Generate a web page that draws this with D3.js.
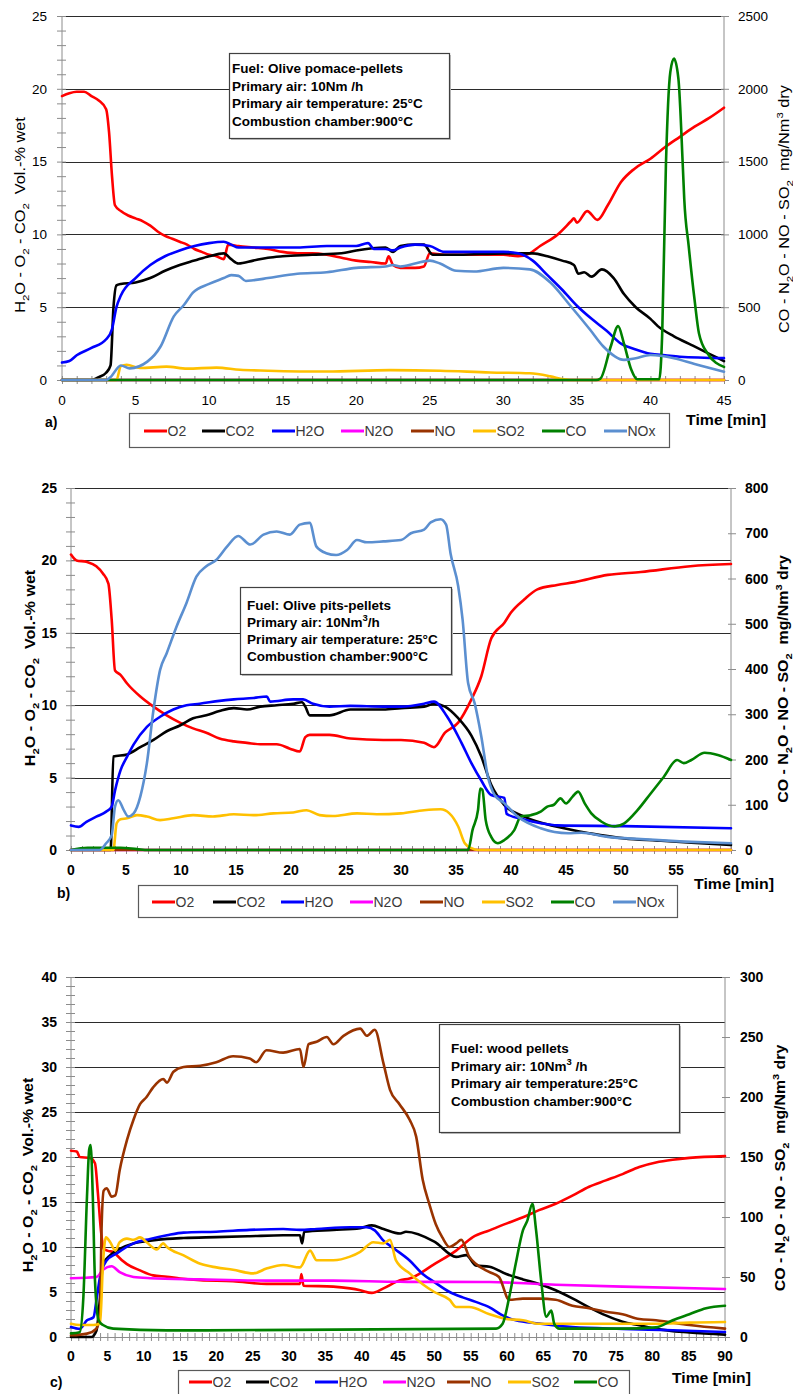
<!DOCTYPE html>
<html>
<head>
<meta charset="utf-8">
<script src="https://cdn.jsdelivr.net/npm/d3@7"></script>
<style>
	body{margin:0;background:#fff;}
	svg{display:block;}
</style>
</head>
<body>
<script>
//series names in legend / draw order
var seriesNames = ["O2", "CO2", "H2O", "N2O", "NO", "SO2", "CO", "NOx"];
var leftSeries = ["O2", "CO2", "H2O"]; //plotted against the Vol.-% axis

//tick labels
var aXTicks = [0, 5, 10, 15, 20, 25, 30, 35, 40, 45],
	aLeftTicks = [0, 5, 10, 15, 20, 25],
	aRightTicks = [0, 500, 1000, 1500, 2000, 2500];
var bXTicks = [0, 5, 10, 15, 20, 25, 30, 35, 40, 45, 50, 55, 60],
	bLeftTicks = [0, 5, 10, 15, 20, 25],
	bRightTicks = [0, 100, 200, 300, 400, 500, 600, 700, 800];
var cXTicks = [0, 5, 10, 15, 20, 25, 30, 35, 40, 45, 50, 55, 60, 65, 70, 75, 80, 85, 90],
	cLeftTicks = [0, 5, 10, 15, 20, 25, 30, 35, 40],
	cRightTicks = [0, 50, 100, 150, 200, 250, 300];

//panel a) olive pomace pellets  [time min, value]
var aO2 = [[0,19.5],[0.5,19.7],[1,19.8],[1.5,19.8],[2,19.5],[2.5,19.2],[3,18.6],[3.2,17],[3.4,14],[3.6,12],[4,11.6],[4.5,11.3],[5,11.1],[5.5,10.9],[6,10.6],[6.5,10.2],[7,9.9],[7.5,9.7],[8,9.5],[8.5,9.3],[9,9.0],[9.5,8.8],[10,8.6],[10.5,8.5],[11,8.3],[11.3,9.3],[12,9.2],[13,9.1],[14,9.0],[15,8.8],[16,8.7],[17,8.7],[18,8.6],[19,8.4],[20,8.2],[21,8.1],[22,8.0],[22.2,8.5],[22.5,7.9],[23,7.7],[24,7.7],[24.6,7.8],[25,8.7],[26,8.6],[28,8.6],[30,8.6],[31,8.5],[31.8,8.7],[32.5,9.2],[33.7,10.0],[34.6,10.9],[34.8,11.1],[35,10.8],[35.7,11.6],[36.4,11.0],[37.1,12.0],[38,13.6],[38.9,14.5],[40,15.2],[41,16.0],[42,16.7],[43,17.4],[44,18.0],[45,18.7]];
var aCO2 = [[0,0],[2,0],[2.5,0.2],[3,0.5],[3.3,1],[3.5,5],[3.7,6.5],[4,6.6],[5,6.7],[6,7.0],[7,7.5],[8,7.9],[9,8.2],[10,8.5],[11,8.7],[11.5,8.3],[12,8.0],[13,8.2],[14,8.4],[15,8.5],[17,8.6],[19,8.7],[20,8.9],[22,9.1],[22.5,8.8],[23,9.2],[24,9.3],[24.6,9.3],[25.2,8.6],[27,8.6],[30,8.7],[32,8.7],[33,8.5],[34,8.2],[34.8,7.9],[35.1,7.3],[35.5,7.4],[36,7.1],[36.7,7.6],[37.5,7.0],[38.2,5.9],[39,5.0],[40,4.2],[40.5,3.7],[41.6,3.0],[42.8,2.4],[44,1.8],[45,1.3]];
var aH2O = [[0,1.2],[0.5,1.3],[1,1.7],[2,2.2],[3,2.8],[3.4,3.5],[3.7,5.0],[4,5.8],[5,7.0],[6,7.9],[7,8.5],[8,8.9],[9,9.2],[10,9.4],[11,9.5],[11.5,9.3],[12,9.1],[14,9.1],[16,9.1],[18,9.2],[20,9.2],[20.8,9.4],[21.2,9.0],[22,9.0],[22.5,8.9],[23,9.1],[24,9.3],[25,9.2],[26,8.8],[30,8.8],[31,8.7],[32,8.2],[33,7.2],[34,6.2],[35,5.1],[36,4.2],[37,3.4],[38,2.5],[39,2.1],[40,1.8],[41,1.7],[42,1.6],[45,1.5]];
var aN2O = [[0,0],[45,0]];
var aNO = [[0,0],[45,0]];
var aSO2 = [[0,0],[3.7,0],[4,95],[4.4,105],[5.3,82],[7.1,92],[8.5,78],[10.5,85],[12.1,70],[14,64],[18,58],[22.3,68],[25.7,64],[29.1,52],[31.8,46],[33.2,25],[34.1,5],[34.6,0],[45,0]];
var aCO = [[0,0],[36.3,0],[36.6,10],[37.3,230],[37.8,370],[38.2,250],[38.7,70],[39.1,5],[40.6,5],[40.8,320],[41.05,1470],[41.35,2115],[41.6,2207],[41.9,2070],[42.2,1470],[42.3,1240],[42.6,920],[43,550],[43.3,320],[43.9,180],[45,90]];
var aNOx = [[0,0],[3,0],[3.3,20],[4,100],[4.6,80],[5.8,126],[6.7,230],[7.6,437],[8.3,517],[8.9,600],[10,660],[11,700],[11.5,720],[12,715],[12.5,680],[13,685],[14,700],[16,730],[18,740],[20,770],[22,780],[22.5,790],[23,780],[24,800],[25,820],[25.7,800],[26.8,750],[28,745],[30,770],[31.8,760],[33.2,670],[34.6,505],[35.9,345],[36.8,230],[38.2,138],[39,150],[40,172],[41.6,150],[43,110],[45,57]];

//panel b) olive pits pellets
var bO2 = [[0,20.4],[0.5,20.0],[1.4,19.9],[2.3,19.6],[2.9,19.1],[3.4,18.4],[3.7,15.9],[4.0,12.4],[4.5,12.1],[5.1,11.5],[6.3,10.6],[7.5,9.9],[8.7,9.3],[9.9,8.8],[11.1,8.4],[12.3,8.1],[13.5,7.7],[14.8,7.5],[16,7.4],[17.2,7.3],[18.7,7.3],[19.9,7.0],[20.8,6.8],[21.3,7.8],[21.7,7.95],[23.5,7.95],[25.4,7.7],[28.4,7.6],[30,7.6],[32.1,7.4],[33,7.1],[34,8.1],[35.2,8.8],[36.4,10.4],[37.3,12.0],[38.2,14.6],[39.4,15.7],[40,16.4],[41.2,17.3],[42.4,18.0],[44.2,18.3],[45.8,18.5],[48.8,19.0],[51.8,19.2],[56.3,19.6],[60,19.75]];
var bCO2 = [[0,0],[3.6,0],[3.85,6.45],[5.1,6.6],[6.3,7.1],[7.5,7.6],[8.7,8.2],[9.9,8.6],[11.1,9.1],[12.3,9.3],[13.5,9.6],[14.8,9.8],[16,9.7],[17.2,9.9],[18.7,10.0],[20.2,10.1],[21,10.2],[21.3,9.9],[21.7,9.3],[23.5,9.3],[25.4,9.7],[28.4,9.7],[30,9.8],[32.1,9.9],[33,10.1],[34,9.9],[35.2,9.1],[36.4,7.9],[37.3,6.45],[38.2,4.5],[39.4,3.1],[41.2,2.3],[44.2,1.6],[47.2,1.15],[50.3,0.8],[53.3,0.65],[56.4,0.5],[60,0.35]];
var bH2O = [[0,1.7],[0.7,1.6],[1.4,1.95],[2.3,2.3],[3.2,2.65],[3.7,3.0],[4.0,4.1],[4.5,5.5],[5.1,6.45],[5.7,7.3],[6.9,8.5],[8.1,9.2],[9.3,9.7],[10.5,10.0],[11.7,10.1],[13.5,10.3],[14.8,10.4],[16.6,10.5],[17.8,10.6],[18.1,10.25],[20.2,10.4],[21.1,10.4],[22,10.1],[23.5,9.9],[25.4,9.95],[28.4,9.9],[30,9.9],[32.1,10.1],[33,10.25],[34.2,9.2],[35.5,7.4],[36.4,6.0],[37.3,4.8],[38.2,3.8],[39.4,3.6],[39.6,2.5],[41.2,2.1],[42.7,1.85],[44.2,1.7],[50.3,1.65],[60,1.5]];
var bN2O = [[0,0],[60,0]];
var bNO = [[0,0],[60,0]];
var bSO2 = [[0,0],[3.85,0],[4.15,59],[4.5,68],[5.1,70],[6,77],[6.9,74],[8.1,66],[9.3,70],[11.1,77],[12.9,74],[14.8,79],[16.6,77],[18.4,81],[20.2,83],[21.4,88],[22.6,77],[23.8,75],[26,81],[27.8,79],[30,81],[32.1,88],[33.6,90],[34.4,81],[35.2,52],[35.8,15],[36.4,4],[37,0],[60,0]];
var bCO = [[0,0],[1.5,5],[4.5,5],[6,2],[7,0],[36.1,0],[36.5,44],[37,88],[37.2,136],[37.4,133],[37.7,66],[38.2,29],[38.8,15],[39.4,22],[40.3,44],[40.9,74],[41.8,77],[42.7,85],[43.3,96],[43.9,100],[44.5,114],[45,103],[45.6,118],[46.1,129],[46.7,103],[47.3,81],[48.2,63],[49.4,52],[50.3,59],[51.5,88],[52.7,125],[53.9,162],[55.1,199],[55.7,192],[56.4,199],[57.6,215],[58.8,210],[60,199]];
var bNOx = [[0,0],[2.6,0],[3.2,15],[3.7,33],[4.0,96],[4.3,110],[4.8,88],[5.2,74],[5.7,81],[6.3,118],[6.9,192],[7.5,310],[8.1,398],[8.7,435],[9.6,494],[10.5,546],[11.4,604],[12.3,627],[13.2,641],[14.2,671],[15.2,694],[16.3,675],[17.5,697],[18.7,704],[19.9,697],[20.8,719],[21.7,723],[22.3,671],[23.2,656],[24.1,652],[25.1,663],[26,685],[26.9,680],[28.4,682],[30,685],[30.9,700],[32.1,708],[32.7,724],[33.6,731],[34.1,719],[34.5,656],[35.2,583],[35.6,509],[36.1,369],[36.7,324],[37.3,251],[37.9,162],[38.5,122],[39.4,103],[40.6,74],[42.7,48],[45.2,37],[46.4,38],[48.8,29],[51.8,24],[56.4,18],[60,15]];

//panel c) wood pellets (no NOx trace)
var cO2 = [[0,20.7],[0.8,20.6],[1.2,20.0],[2.6,19.9],[3.3,19.3],[3.7,16],[4.1,12],[4.5,9.8],[5,9.6],[6,9.4],[6.3,9.1],[7.7,8.1],[9.5,7.4],[11.3,6.85],[13.2,6.7],[15,6.5],[17.8,6.3],[22.3,6.2],[26.9,5.9],[31.5,5.9],[31.7,7.0],[32,5.7],[36.1,5.6],[38.4,5.4],[39.8,5.2],[41.4,4.9],[43,5.4],[45.3,6.3],[46.6,6.5],[50,8.1],[53,9.6],[55.3,11.1],[57.6,11.85],[59.9,12.6],[62.2,13.3],[64.4,14.1],[66.7,14.8],[69,15.7],[71.3,16.7],[73.6,17.4],[75.9,18.1],[78.2,18.9],[80.5,19.4],[82.8,19.7],[85.1,19.9],[90,20.1]];
var cCO2 = [[0,0],[2.8,0],[3.5,0.7],[4,4.4],[4.4,8.1],[5.4,9.1],[6.7,9.8],[8.6,10.4],[10.9,10.7],[13.2,10.9],[15.5,11.0],[20,11.1],[24.6,11.2],[29.2,11.3],[31.5,11.3],[31.8,10.4],[32.1,11.7],[36.1,11.9],[39.8,12.1],[41.4,12.4],[43,12.0],[45.3,11.5],[46.1,11.7],[50,10.6],[53,8.9],[54.4,9.1],[55.7,7.96],[57.6,7.8],[59.9,7.0],[62.2,6.4],[64.4,5.9],[66.7,5.2],[69,4.3],[71.3,3.3],[73.6,2.4],[75.9,1.7],[78.2,1.3],[80.5,0.9],[85.1,0.5],[90,0.26]];
var cH2O = [[0,1.1],[1.2,0.9],[2.2,1.85],[3.1,2.2],[3.5,4.1],[4,6.7],[4.9,8.5],[6.3,9.3],[8.6,10.4],[10.9,10.9],[13.2,11.3],[15.5,11.6],[20,11.7],[24.6,11.9],[29.2,12.0],[31.5,11.9],[33.8,12.0],[38.4,12.2],[40.7,12.2],[41.8,11.85],[43,10.7],[44.5,9.8],[46.6,8.5],[48.4,7.0],[50,6.1],[52.1,5.0],[53.9,4.4],[55.7,3.9],[57.6,3.3],[59.4,2.4],[61.2,1.85],[64.4,1.5],[69,1.1],[75.9,0.9],[82.8,0.75],[90,0.55]];
var cN2O = [[0,49],[3.5,50],[4.4,56],[5.6,59],[6.7,54],[8.6,50],[10.9,49],[17.8,48],[26.9,47],[36.1,47],[45.3,46],[57.6,45.8],[66.7,43.6],[75.9,42],[90,40]];
var cNO = [[0,1.4],[2.2,2.8],[3.5,7],[4,19],[4.2,89],[4.5,122],[4.9,124],[5.6,117],[6.1,118],[6.7,139],[7.7,164],[8.6,181],[9.5,194],[10.4,200],[11.3,208],[12.7,215],[13.2,212],[14.1,221],[15.5,225],[17.8,226],[20,229],[22.3,234],[24.6,232],[25.5,229],[26.9,239],[29.2,237],[31.5,240],[32,225],[32.7,244],[33.8,246],[35.2,250],[36.1,244],[37.5,251],[39.8,257],[40.7,251],[41.8,256],[43,228],[43.9,206],[45.2,194],[46.6,181],[47.5,167],[48.4,131],[49.3,111],[50.2,94],[51.1,83],[52.1,75],[53,78],[53.7,81],[54.8,67],[55.7,61],[57.6,54],[58.9,50],[60.3,31],[62.2,32],[64.4,32],[66.7,31],[69,26],[71.3,24],[73.6,21],[75.9,19],[78.2,15],[80.5,14],[85.1,10],[90,7]];
var cSO2 = [[0,11],[1.2,10],[3.1,10],[4,11],[4.4,61],[4.8,83],[5.4,79],[6.1,72],[6.7,79],[7.7,82],[8.6,81],[9.5,83],[10.4,79],[11.8,73],[12.7,78],[13.2,75],[15.5,68],[17.8,61],[20,58],[22.3,56],[25.1,53],[26.9,57],[29.2,60],[31.5,58],[32.9,72],[33.8,64],[36.1,64],[38.4,67],[39.8,71],[41.6,79],[43,78],[43.9,81],[44.7,64],[46.6,53],[48.4,44],[50,37.5],[52.1,31],[53,25],[54.8,25],[57.6,19],[59.9,15],[62.2,14],[64.4,11],[71.3,11],[80.5,11],[85.1,12],[90,12.5]];
var cCO = [[0,3],[1.2,4],[1.7,33],[2.2,117],[2.5,156],[2.7,160],[3.0,117],[3.3,47],[3.8,14],[4.4,10],[5.8,7],[13.2,5.5],[58.5,7],[59.4,11],[60.3,33],[61.2,61],[62.2,89],[62.8,97],[63.5,111],[64,89],[64.7,47],[65.4,17],[66.1,22],[66.5,11],[67.2,7],[75.9,7],[80.5,8],[82.8,14],[85.1,19],[87.4,24],[90,26]];

//styling
var colors = {O2: "#ff0000", CO2: "#000000", H2O: "#0000ff", N2O: "#ff00ff", NO: "#993300", SO2: "#ffc000", CO: "#008000", NOx: "#5b8fd0"};
var fontFamily = "'Liberation Sans', Arial, sans-serif";

var svg = d3.select("body")
	.append("svg")
	.attr("width", 793)
	.attr("height", 1394);

var panels = [
	{
		id: "a", plot: {l: 62, r: 724, t: 16, b: 380},
		xMax: 45, leftMax: 25, rightMax: 2500,
		xTicks: aXTicks, leftTicks: aLeftTicks, rightTicks: aRightTicks,
		data: {O2: aO2, CO2: aCO2, H2O: aH2O, N2O: aN2O, NO: aNO, SO2: aSO2, CO: aCO, NOx: aNOx},
		legend: seriesNames, legendBox: {x: 129, y: 413, w: 540, h: 34}, legendCy: 431, legendX: [144, 202, 272, 341, 411, 473, 542, 604],
		bold: false, leftLabelGap: 15, rightLabelGap: 14, xLabelY: 405,
		leftTitle: {x: 25, y: 215, len: 196}, rightTitle: {x: 789, y: 209, len: 248},
		time: {x: 686, y: 425, len: 80}, tag: {x: 45, y: 427},
		box: {x: 229, y: 53, w: 220, h: 85, tx: 232, ty: [73, 90.5, 108, 125.5],
			lines: [[["Fuel: Olive pomace-pellets", ""]], [["Primary air: 10Nm /h", ""]], [["Primary air temperature: 25°C", ""]], [["Combustion chamber:900°C", ""]]]}
	},
	{
		id: "b", plot: {l: 71, r: 731, t: 488, b: 850},
		xMax: 60, leftMax: 25, rightMax: 800,
		xTicks: bXTicks, leftTicks: bLeftTicks, rightTicks: bRightTicks,
		data: {O2: bO2, CO2: bCO2, H2O: bH2O, N2O: bN2O, NO: bNO, SO2: bSO2, CO: bCO, NOx: bNOx},
		legend: seriesNames, legendBox: {x: 138, y: 885, w: 539, h: 32}, legendCy: 902, legendX: [152, 213, 281, 350, 420, 482, 551, 613],
		bold: true, leftLabelGap: 14, rightLabelGap: 14, xLabelY: 875,
		leftTitle: {x: 35, y: 668, len: 197}, rightTitle: {x: 788, y: 679, len: 248},
		time: {x: 694, y: 889, len: 80}, tag: {x: 57, y: 898},
		box: {x: 240, y: 587, w: 211, h: 87, tx: 247, ty: [610, 627, 644, 661],
			lines: [[["Fuel: Olive pits-pellets", ""]], [["Primary air: 10Nm", ""], ["3", "sup"], ["/h", ""]], [["Primary air temperature: 25°C", ""]], [["Combustion chamber:900°C", ""]]]}
	},
	{
		id: "c", plot: {l: 71, r: 725, t: 977, b: 1337},
		xMax: 90, leftMax: 40, rightMax: 300,
		xTicks: cXTicks, leftTicks: cLeftTicks, rightTicks: cRightTicks,
		data: {O2: cO2, CO2: cCO2, H2O: cH2O, N2O: cN2O, NO: cNO, SO2: cSO2, CO: cCO},
		legend: ["O2", "CO2", "H2O", "N2O", "NO", "SO2", "CO"], legendBox: {x: 178, y: 1370, w: 451, h: 34}, legendCy: 1382, legendX: [189, 246, 315, 383, 447, 508, 574],
		bold: true, leftLabelGap: 14, rightLabelGap: 15, xLabelY: 1361,
		leftTitle: {x: 33, y: 1175, len: 195}, rightTitle: {x: 785, y: 1168, len: 247},
		time: {x: 672, y: 1383, len: 79}, tag: {x: 50, y: 1387},
		box: {x: 439, y: 1024, w: 240, h: 108, tx: 451, ty: [1053, 1071, 1088, 1106],
			lines: [[["Fuel: wood pellets", ""]], [["Primary air: 10Nm", ""], ["3", "sup"], [" /h", ""]], [["Primary air temperature:25°C", ""]], [["Combustion chamber:900°C", ""]]]}
	}
];

panels.forEach(function(p){
	drawPanel(svg, p);
});

//write text made of normal / sub / sup pieces
function richText(text, parts, size){
	var shift = 0;
	parts.forEach(function(part){
		var t = text.append("tspan").text(part[0]);
		var target = part[1] == "sub" ? size * 0.25 : (part[1] == "sup" ? -size * 0.45 : 0);
		if (target != shift) t.attr("dy", target - shift);
		shift = target;
		if (part[1]) t.attr("font-size", size * 0.7);
	});
};

//stretch a text element horizontally to a target length
function fitLength(text, len){
	var w = text.node().getBBox().width;
	if (w > 0) text.attr("transform", "scale(" + (len / w) + ",1)");
};

function drawPanel(svg, p){
	var P = p.plot;
	var weight = p.bold ? "bold" : "normal";

	var x = d3.scaleLinear().domain([0, p.xMax]).range([P.l, P.r]);
	var yL = d3.scaleLinear().domain([0, p.leftMax]).range([P.b, P.t]);
	var yR = d3.scaleLinear().domain([0, p.rightMax]).range([P.b, P.t]);

	var g = svg.append("g").attr("class", "panel-" + p.id);

	//horizontal gridlines on the left axis majors
	g.selectAll(".grid")
		.data(p.leftTicks.filter(function(d){ return d > 0; }))
		.enter()
		.append("line")
		.attr("class", "grid")
		.attr("x1", P.l).attr("x2", P.r)
		.attr("y1", function(d){ return Math.round(yL(d)) + 0.5; })
		.attr("y2", function(d){ return Math.round(yL(d)) + 0.5; })
		.attr("stroke", "#2b2b2b")
		.attr("stroke-width", 1);

	//info box
	var B = p.box;
	g.append("rect")
		.attr("x", B.x + 2).attr("y", B.y + 2).attr("width", B.w).attr("height", B.h)
		.attr("fill", "#bfbfbf");
	g.append("rect")
		.attr("x", B.x + 0.5).attr("y", B.y + 0.5).attr("width", B.w).attr("height", B.h)
		.attr("fill", "#fff").attr("stroke", "#404040").attr("stroke-width", 1.2);
	B.lines.forEach(function(line, i){
		var t = g.append("text")
			.attr("x", B.tx).attr("y", B.ty[i])
			.attr("font-family", fontFamily).attr("font-size", 13.5).attr("font-weight", "bold")
			.attr("fill", "#000");
		richText(t, line, 13.5);
	});

	//axis lines
	var axisColor = "#8c8c8c";
	g.append("line").attr("x1", P.l).attr("x2", P.l).attr("y1", P.t).attr("y2", P.b).attr("stroke", axisColor);
	g.append("line").attr("x1", P.r).attr("x2", P.r).attr("y1", P.t).attr("y2", P.b).attr("stroke", axisColor);
	g.append("line").attr("x1", P.l).attr("x2", P.r).attr("y1", P.b + 0.5).attr("y2", P.b + 0.5).attr("stroke", axisColor);

	//left axis ticks: one every unit, crossing the axis
	var leftAxis = d3.axisLeft(yL)
		.tickValues(d3.range(0, p.leftMax + 1, 1))
		.tickSize(5).tickSizeOuter(0).tickFormat("");
	var gl = g.append("g").attr("transform", "translate(" + P.l + ",0)").call(leftAxis);
	gl.select(".domain").remove();
	gl.selectAll(".tick line").attr("x1", 4).attr("stroke", axisColor);

	//right axis ticks (majors only)
	var rightAxis = d3.axisRight(yR)
		.tickValues(p.rightTicks)
		.tickSize(5).tickSizeOuter(0).tickFormat("");
	var gr = g.append("g").attr("transform", "translate(" + P.r + ",0)").call(rightAxis);
	gr.select(".domain").remove();
	gr.selectAll(".tick line").attr("x1", -3).attr("stroke", axisColor);

	//x axis ticks: one every minute
	var xAxis = d3.axisBottom(x)
		.tickValues(d3.range(0, p.xMax + 1, 1))
		.tickSize(4).tickSizeOuter(0).tickFormat("");
	var gx = g.append("g").attr("transform", "translate(0," + P.b + ")").call(xAxis);
	gx.select(".domain").remove();
	gx.selectAll(".tick line").attr("y1", -4).attr("stroke", axisColor);

	//tick labels
	var tickSize = p.bold ? 14 : 13.5;
	g.selectAll(".ltl")
		.data(p.leftTicks)
		.enter()
		.append("text")
		.attr("class", "ltl")
		.attr("x", P.l - p.leftLabelGap)
		.attr("y", function(d){ return yL(d) + tickSize * 0.36; })
		.attr("text-anchor", "end")
		.attr("font-family", fontFamily).attr("font-size", tickSize).attr("font-weight", weight)
		.text(function(d){ return d; });
	g.selectAll(".rtl")
		.data(p.rightTicks)
		.enter()
		.append("text")
		.attr("class", "rtl")
		.attr("x", P.r + p.rightLabelGap)
		.attr("y", function(d){ return yR(d) + tickSize * 0.36; })
		.attr("font-family", fontFamily).attr("font-size", tickSize).attr("font-weight", weight)
		.text(function(d){ return d; });
	g.selectAll(".xtl")
		.data(p.xTicks)
		.enter()
		.append("text")
		.attr("class", "xtl")
		.attr("x", function(d){ return x(d); })
		.attr("y", p.xLabelY)
		.attr("text-anchor", "middle")
		.attr("font-family", fontFamily).attr("font-size", tickSize).attr("font-weight", weight)
		.text(function(d){ return d; });

	//series lines
	var clipId = "clip-" + p.id;
	g.append("clipPath").attr("id", clipId)
		.append("rect")
		.attr("x", P.l - 2).attr("y", P.t - 4).attr("width", P.r - P.l + 4).attr("height", P.b - P.t + 6);
	var lines = g.append("g").attr("clip-path", "url(#" + clipId + ")");
	seriesNames.forEach(function(name){
		var pts = p.data[name];
		if (!pts) return;
		var yScale = leftSeries.indexOf(name) >= 0 ? yL : yR;
		var line = d3.line()
			.curve(d3.curveMonotoneX)
			.x(function(d){ return x(d[0]); })
			.y(function(d){ return yScale(d[1]); });
		lines.append("path")
			.datum(pts)
			.attr("class", "series " + name)
			.attr("d", line)
			.attr("fill", "none")
			.attr("stroke", colors[name])
			.attr("stroke-width", 2.6)
			.attr("stroke-linejoin", "round")
			.attr("stroke-linecap", "round");
	});

	//axis titles (baseline sits at the given x after rotation)
	var titleSize = 14;
	var lt = g.append("g")
		.attr("transform", "translate(" + p.leftTitle.x + "," + p.leftTitle.y + ") rotate(-90)")
		.append("text")
		.attr("text-anchor", "middle")
		.attr("font-family", fontFamily).attr("font-size", titleSize).attr("font-weight", weight);
	richText(lt, [["H", ""], ["2", "sub"], ["O - O", ""], ["2", "sub"], [" - CO", ""], ["2", "sub"], ["\u00a0 Vol.-% wet", ""]], titleSize);
	fitLength(lt, p.leftTitle.len);

	var rt = g.append("g")
		.attr("transform", "translate(" + p.rightTitle.x + "," + p.rightTitle.y + ") rotate(-90)")
		.append("text")
		.attr("text-anchor", "middle")
		.attr("font-family", fontFamily).attr("font-size", titleSize).attr("font-weight", weight);
	richText(rt, [["CO - N", ""], ["2", "sub"], ["O - NO - SO", ""], ["2", "sub"], ["\u00a0 mg/Nm", ""], ["3", "sup"], [" dry", ""]], titleSize);
	fitLength(rt, p.rightTitle.len);

	//time label
	var tl = g.append("g")
		.attr("transform", "translate(" + p.time.x + "," + p.time.y + ")")
		.append("text")
		.attr("font-family", fontFamily).attr("font-size", 15).attr("font-weight", "bold")
		.text("Time [min]");
	fitLength(tl, p.time.len);

	//panel tag
	g.append("text")
		.attr("x", p.tag.x).attr("y", p.tag.y)
		.attr("font-family", fontFamily).attr("font-size", 14).attr("font-weight", "bold")
		.text(p.id + ")");

	//legend
	var L = p.legendBox;
	g.append("rect")
		.attr("x", L.x + 0.5).attr("y", L.y + 0.5).attr("width", L.w).attr("height", L.h)
		.attr("fill", "#fff").attr("stroke", "#5a5a5a").attr("stroke-width", 1.2);
	var cy = p.legendCy;
	p.legend.forEach(function(name, i){
		var lx = p.legendX[i];
		g.append("line")
			.attr("x1", lx).attr("x2", lx + 23)
			.attr("y1", cy).attr("y2", cy)
			.attr("stroke", colors[name]).attr("stroke-width", 3);
		g.append("text")
			.attr("x", lx + 23.5).attr("y", cy + 5)
			.attr("font-family", fontFamily).attr("font-size", 14)
			.attr("fill", "#3a3a3a")
			.text(name);
	});
};
</script>
</body>
</html>
